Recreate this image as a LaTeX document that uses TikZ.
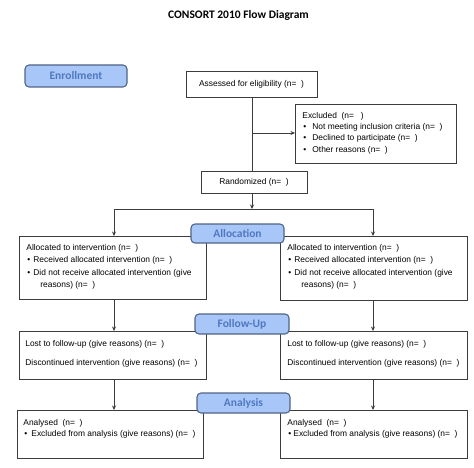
\documentclass[tikz,border=0pt]{standalone}
\usepackage{fontspec}
\setmainfont{Liberation Sans}
\newfontfamily\calibri{Carlito}
\usetikzlibrary{arrows.meta}
\definecolor{lblfill}{RGB}{168,198,248}
\definecolor{lbldraw}{RGB}{80,100,135}
\definecolor{lbltext}{RGB}{80,120,192}
\definecolor{edgec}{RGB}{60,60,60}
% bullet line: optional width of bullet box
\newcommand\bl[2][6]{\par\hspace*{1pt}\makebox[#1pt][l]{\textbullet}#2}
% box text: width, height, baselineskip, left pad, first baseline, content
\newcommand\boxtext[6]{\parbox[c][#2pt][t]{#1pt}{\fontsize{8.4}{#3}\selectfont\parindent0pt\leftskip#4pt\relax\rule{0pt}{#5pt}#6\par}}
\begin{document}
\begin{tikzpicture}[x=1pt,y=-1pt,
  box/.style={draw=edgec, line width=0.8pt, inner sep=0pt, anchor=north west, fill=white},
  cbox/.style={draw=edgec, line width=0.8pt, inner sep=0pt, fill=white, font=\fontsize{8.4}{10}\selectfont},
  lbl/.style={draw=lbldraw, fill=lblfill, line width=1.1pt, rounded corners=4pt, inner sep=0pt,
    text=lbltext, font=\calibri\bfseries\fontsize{11.5}{13}\selectfont},
  conn/.style={draw=edgec, line width=0.8pt},
  arr/.style={conn, -{Stealth[length=4.5pt,width=4pt]}}]
\useasboundingbox (0,0) rectangle (474,468);
\fill[white] (0,0) rectangle (474,468);

\node[font=\calibri\bfseries\fontsize{11.5}{13}\selectfont] (title) at (238.5,15) {CONSORT 2010 Flow Diagram};

\node[lbl, minimum width=102pt, minimum height=22pt] (enroll) at (76,76) {Enrollment};

\node[cbox, minimum width=131pt, minimum height=26pt] (assess) at (251.5,84) {Assessed for eligibility (n=\ \ )};

\node[box] (excl) at (295,104) {\boxtext{161}{59}{11.3}{7}{14}{%
Excluded\ \ (n=\ \ \ )
\bl[9]{Not meeting inclusion criteria (n=\ \ )}
\bl[9]{Declined to participate (n=\ \ )}
\bl[9]{Other reasons (n=\ \ )}}};

\node[cbox, minimum width=106pt, minimum height=22pt] (rand) at (254,182) {Randomized (n=\ \ )};

\node[box] (allocL) at (19,236) {\boxtext{187}{63}{12.3}{7}{14}{%
Allocated to intervention (n=\ \ )
\bl{Received allocated intervention (n=\ \ )}
\bl{Did not receive allocated intervention (give}
\par\hspace*{14pt}reasons) (n=\ \ )}};

\node[box] (allocR) at (280,236) {\boxtext{187}{64}{12.3}{7}{14}{%
Allocated to intervention (n=\ \ )
\bl{Received allocated intervention (n=\ \ )}
\bl{Did not receive allocated intervention (give}
\par\hspace*{14pt}reasons) (n=\ \ )}};

\node[box] (fuL) at (19,331) {\boxtext{187}{48}{19}{6}{15}{%
Lost to follow-up (give reasons) (n=\ \ )
\par Discontinued intervention (give reasons) (n=\ \ )}};

\node[box] (fuR) at (280,331) {\boxtext{187}{48}{19}{7}{15}{%
Lost to follow-up (give reasons) (n=\ \ )
\par Discontinued intervention (give reasons) (n=\ \ )}};

\node[box] (anL) at (17,410) {\boxtext{186}{48}{11}{6}{15}{%
Analysed\ \ (n=\ \ )
\bl[7]{Excluded from analysis (give reasons) (n=\ \ )}}};

\node[box] (anR) at (280,410) {\boxtext{187}{48}{11}{7}{15}{%
Analysed\ \ (n=\ \ )
\bl[5]{Excluded from analysis (give reasons) (n=\ \ )}}};

\node[lbl, minimum width=93pt, minimum height=19pt] (allocLbl) at (237.5,233.5) {Allocation};
\node[lbl, minimum width=94pt, minimum height=20pt] (fuLbl) at (242,324) {Follow-Up};
\node[lbl, minimum width=93pt, minimum height=20pt] (anLbl) at (243.5,403) {Analysis};

\coordinate (exj) at (252,133);
\coordinate (split) at (252,209);
\coordinate (sl) at (114,209);
\coordinate (sr) at (373,209);

\draw[conn] (assess.south -| exj) -- (rand.north -| exj);
\draw[arr] (exj) -- (excl.west |- exj);
\draw[arr] (rand.south -| split) -- (split);
\draw[conn] (sl) -- (sr);
\draw[arr] (sl) -- (allocL.north -| sl);
\draw[arr] (sr) -- (allocR.north -| sr);
\draw[arr] (allocL.south -| sl) -- (fuL.north -| sl);
\draw[arr] (allocR.south -| sr) -- (fuR.north -| sr);
\draw[arr] (fuL.south -| sl) -- (anL.north -| sl);
\draw[arr] (fuR.south -| sr) -- (anR.north -| sr);
\end{tikzpicture}
\end{document}
